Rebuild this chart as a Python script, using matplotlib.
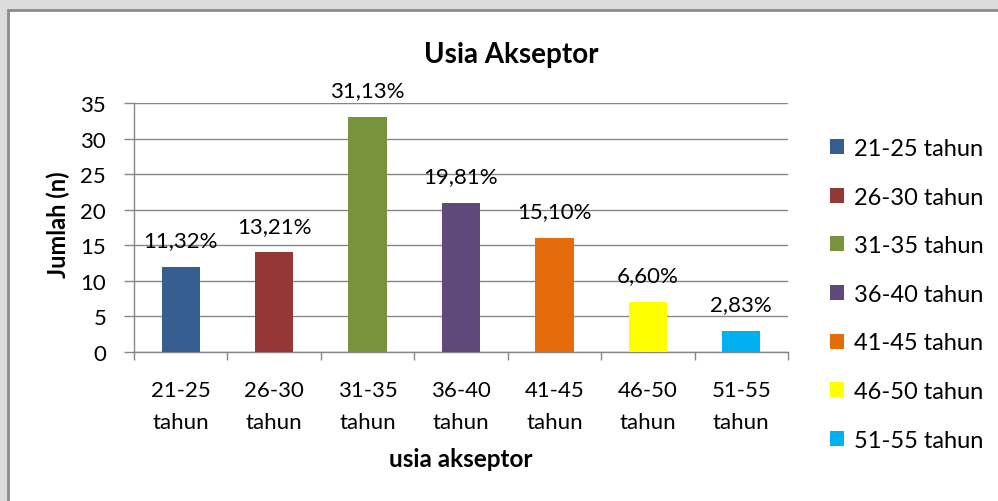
import matplotlib
matplotlib.use("Agg")
import matplotlib.pyplot as plt
from matplotlib.patches import Rectangle, Patch

plt.rcParams['font.family'] = ['Lato', 'DejaVu Sans']

categories = ["21-25\ntahun", "26-30\ntahun", "31-35\ntahun", "36-40\ntahun",
              "41-45\ntahun", "46-50\ntahun", "51-55\ntahun"]
legend_labels = ["21-25 tahun", "26-30 tahun", "31-35 tahun", "36-40 tahun",
                 "41-45 tahun", "46-50 tahun", "51-55 tahun"]
counts = [12, 14, 33, 21, 16, 7, 3]
pct_labels = ["11,32%", "13,21%", "31,13%", "19,81%", "15,10%", "6,60%", "2,83%"]
colors = ["#365F91", "#953735", "#77933C", "#5F497A", "#E46C0A", "#FFFF00", "#00B0F0"]

W, H = 998, 502
FS = 16
fig = plt.figure(figsize=(W / 100, H / 100), dpi=100)
fig.patch.set_facecolor("#dcdcdc")
fig.patches.append(Rectangle((8 / W, -0.01), 1.0, 1 - 11 / H + 0.01, transform=fig.transFigure,
                             facecolor="white", edgecolor="#8c8c8c", lw=2, zorder=-5))

ax = fig.add_axes([134 / W, (H - 353) / H, 654 / W, 249 / H])
ax.set_zorder(2)
ax.set_facecolor("none")
x = list(range(len(counts)))
bars = ax.bar(x, counts, width=0.41, color=colors, zorder=3)
ax.bar_label(bars, labels=pct_labels, padding=12, fontsize=FS)

ax.set_xlim(-0.5, len(counts) - 0.5)
ax.set_ylim(0, 35)
ax.set_yticks(range(0, 36, 5))
ax.yaxis.grid(True, color="#868686", lw=1, zorder=0)
ax.set_xticks([i - 0.5 for i in range(len(counts) + 1)])
ax.set_xticklabels([])
ax.set_xticks(x, minor=True)
ax.set_xticklabels(categories, minor=True, fontsize=FS, linespacing=1.75)
ax.tick_params(axis="x", which="minor", length=0, pad=20)
ax.tick_params(axis="x", which="major", length=6, color="#868686", width=1)
ax.tick_params(axis="y", length=7, color="#868686", width=1, labelsize=FS, pad=13)
for s in ["top", "right"]:
    ax.spines[s].set_visible(False)
for s in ["left", "bottom"]:
    ax.spines[s].set_color("#868686")
    ax.spines[s].set_linewidth(1)

ax.set_ylabel("Jumlah (n)", fontsize=17, fontweight="bold", va="center")
ax.yaxis.set_label_coords((58 - 134) / 654, (353 - 225) / 249)
ax.set_xlabel("usia akseptor", fontsize=17.5, fontweight="bold", labelpad=11)
fig.text(511 / W, 1 - 55 / H, "Usia Akseptor", ha="center", va="center",
         fontsize=20, fontweight="bold")

handles = [Patch(facecolor=c, edgecolor="none") for c in colors]
fig.legend(handles, legend_labels, loc="upper left", bbox_to_anchor=(830 / W, 1 - 139 / H),
           frameon=False, fontsize=FS + 1, handlelength=0.6, handleheight=0.6,
           handletextpad=0.4, labelspacing=1.17, borderpad=0, borderaxespad=0)

fig.savefig("out.png", dpi=100, facecolor=fig.get_facecolor())
